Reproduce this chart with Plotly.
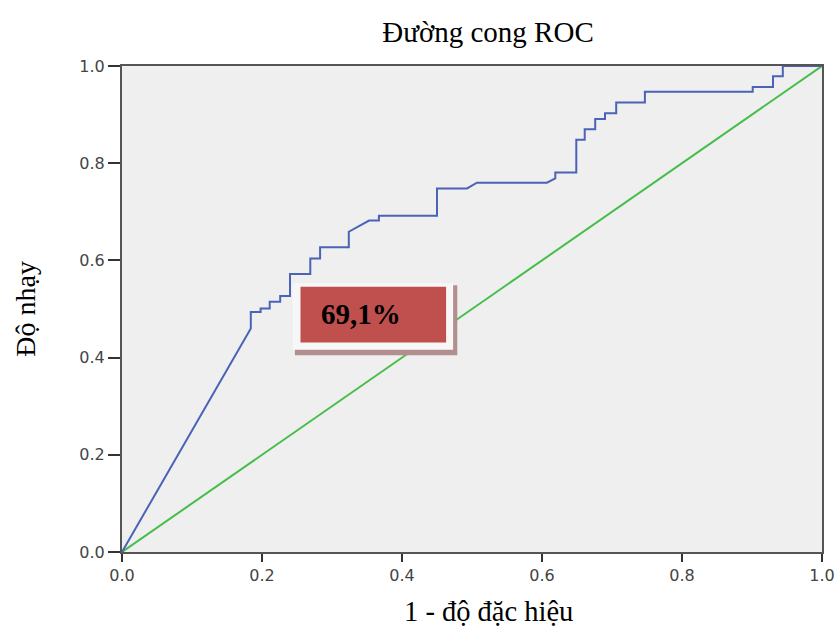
import plotly.graph_objects as go

# ROC curve vertices (1 - specificity, sensitivity)
fpr = [0, 0.184, 0.184, 0.198, 0.198, 0.211, 0.211, 0.226, 0.226, 0.24, 0.24,
       0.269, 0.269, 0.283, 0.283, 0.324, 0.324, 0.353, 0.367, 0.367, 0.450,
       0.450, 0.493, 0.507, 0.607, 0.619, 0.619, 0.649, 0.649, 0.661, 0.661,
       0.676, 0.676, 0.690, 0.690, 0.706, 0.706, 0.747, 0.747, 0.901, 0.901,
       0.930, 0.930, 0.944, 0.944, 1.0]
tpr = [0, 0.460, 0.494, 0.494, 0.501, 0.501, 0.515, 0.515, 0.527, 0.527, 0.572,
       0.572, 0.604, 0.604, 0.627, 0.627, 0.659, 0.682, 0.682, 0.692, 0.692,
       0.748, 0.748, 0.760, 0.760, 0.769, 0.781, 0.781, 0.848, 0.848, 0.870,
       0.870, 0.891, 0.891, 0.903, 0.903, 0.925, 0.925, 0.947, 0.947, 0.957,
       0.957, 0.979, 0.979, 1.0, 1.0]
ref_x = [0, 1]
ref_y = [0, 1]
tick_vals = [0.0, 0.2, 0.4, 0.6, 0.8, 1.0]
tick_text = ["0.0", "0.2", "0.4", "0.6", "0.8", "1.0"]
auc_label = "69,1%"

title_text = "Đường cong ROC"
x_title = "1 - độ đặc hiệu"
y_title = "Độ nhạy"

fig = go.Figure()
fig.add_trace(go.Scatter(x=ref_x, y=ref_y, mode="lines",
                         line=dict(color="#44be48", width=2), hoverinfo="skip"))
fig.add_trace(go.Scatter(x=fpr, y=tpr, mode="lines",
                         line=dict(color="#4a63b8", width=2)))

serif = "Liberation Serif, Times New Roman, serif"
sans = "DejaVu Sans, Arial, sans-serif"

# label box with shadow
fig.add_shape(type="rect", xref="x", yref="y", x0=0.247, x1=0.479, y0=0.405, y1=0.549,
              fillcolor="#b38e8e", line=dict(width=0), layer="above")
fig.add_shape(type="rect", xref="x", yref="y", x0=0.244, x1=0.473, y0=0.416, y1=0.553,
              fillcolor="#f7f7f7", line=dict(width=0), layer="above")
fig.add_shape(type="rect", xref="x", yref="y", x0=0.255, x1=0.463, y0=0.431, y1=0.546,
              fillcolor="#c0504d", line=dict(width=0), layer="above")
fig.add_annotation(x=0.281, y=0.489, xref="x", yref="y", text="<b>" + auc_label + "</b>",
                   showarrow=False, xanchor="left", yanchor="middle",
                   font=dict(family=serif, size=29, color="black"))

fig.add_annotation(x=0.523, y=-0.123, xref="paper", yref="paper", text=x_title,
                   showarrow=False, xanchor="center", yanchor="middle",
                   font=dict(family=serif, size=28.5, color="black"))
fig.add_annotation(x=-0.139, y=0.5, xref="paper", yref="paper", text=y_title,
                   showarrow=False, xanchor="center", yanchor="middle", textangle=-90,
                   font=dict(family=serif, size=28, color="black"))

axis_common = dict(range=[0, 1], tickvals=tick_vals, ticktext=tick_text,
                   showgrid=False, zeroline=False, showline=True, mirror=True,
                   linecolor="#555555", linewidth=2, ticks="outside",
                   tickwidth=1.5, tickcolor="#333333", automargin=False,
                   tickfont=dict(family=sans, size=16, color="#444444"))

fig.update_layout(
    width=836, height=628,
    margin=dict(l=122, r=14, t=66, b=76),
    paper_bgcolor="white", plot_bgcolor="#efefef",
    showlegend=False,
    title=dict(text=title_text, x=488/836, y=1-32/628, xanchor="center", yanchor="middle",
               xref="container", yref="container", automargin=False,
               font=dict(family=serif, size=29, color="black")),
    xaxis=dict(axis_common, ticklen=8),
    yaxis=dict(axis_common, ticklen=12),
)

fig.write_html("out.html")
